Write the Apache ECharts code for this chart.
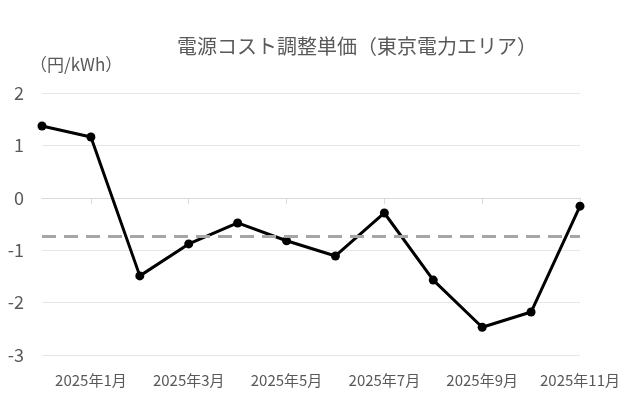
<!DOCTYPE html>
<html>
<head>
<meta charset="utf-8">
<script src="https://cdn.jsdelivr.net/npm/echarts@6/dist/echarts.min.js"></script>
<style>html,body{margin:0;padding:0;background:#fff}#chart{width:640px;height:400px}</style>
</head>
<body>
<div id="chart"></div>
<script>
// months from Dec 2024 to Nov 2025
const months = ['2024年12月', '2025年1月', '2025年2月', '2025年3月', '2025年4月', '2025年5月',
  '2025年6月', '2025年7月', '2025年8月', '2025年9月', '2025年10月', '2025年11月'];
const unitPrice = [1.37, 1.16, -1.49, -0.88, -0.48, -0.82, -1.11, -0.29, -1.57, -2.47, -2.18, -0.16];

const font = '"Noto Sans CJK JP", "Noto Sans", sans-serif';
const chart = echarts.init(document.getElementById('chart'), null, { renderer: 'canvas' });

chart.setOption({
  animation: false,
  title: {
    text: '電源コスト調整単価（東京電力エリア）',
    left: 352, top: 31, textAlign: 'center',
    textStyle: { color: '#595959', fontSize: 20, fontWeight: 'normal', fontFamily: font }
  },
  graphic: [{
    type: 'text', left: 30, top: 56,
    style: { text: '（円/kWh）', fill: '#595959', fontSize: 17, fontFamily: font }
  }],
  grid: { left: 42, right: 60, top: 93, bottom: 45 },
  xAxis: {
    type: 'category', data: months, boundaryGap: false,
    axisLine: { lineStyle: { color: '#d9d9d9' } },
    axisTick: { interval: i => i % 2 === 1, length: 6, lineStyle: { color: '#d9d9d9' } },
    axisLabel: { interval: i => i % 2 === 1, color: '#595959', fontSize: 15, fontFamily: font, margin: 18 }
  },
  yAxis: {
    type: 'value', min: -3, max: 2, interval: 1,
    axisLabel: { color: '#595959', fontSize: 18, fontFamily: font, margin: 18 },
    splitLine: { lineStyle: { color: '#e6e6e6' } }
  },
  series: [{
    type: 'line', data: unitPrice,
    symbol: 'circle', symbolSize: 9,
    lineStyle: { color: '#000', width: 3 },
    itemStyle: { color: '#000' },
    markLine: {
      silent: true, symbol: 'none', label: { show: false },
      lineStyle: { color: '#a6a6a6', type: [14, 8], width: 3 },
      data: [{ type: 'average' }]
    }
  }]
});
</script>
</body>
</html>
